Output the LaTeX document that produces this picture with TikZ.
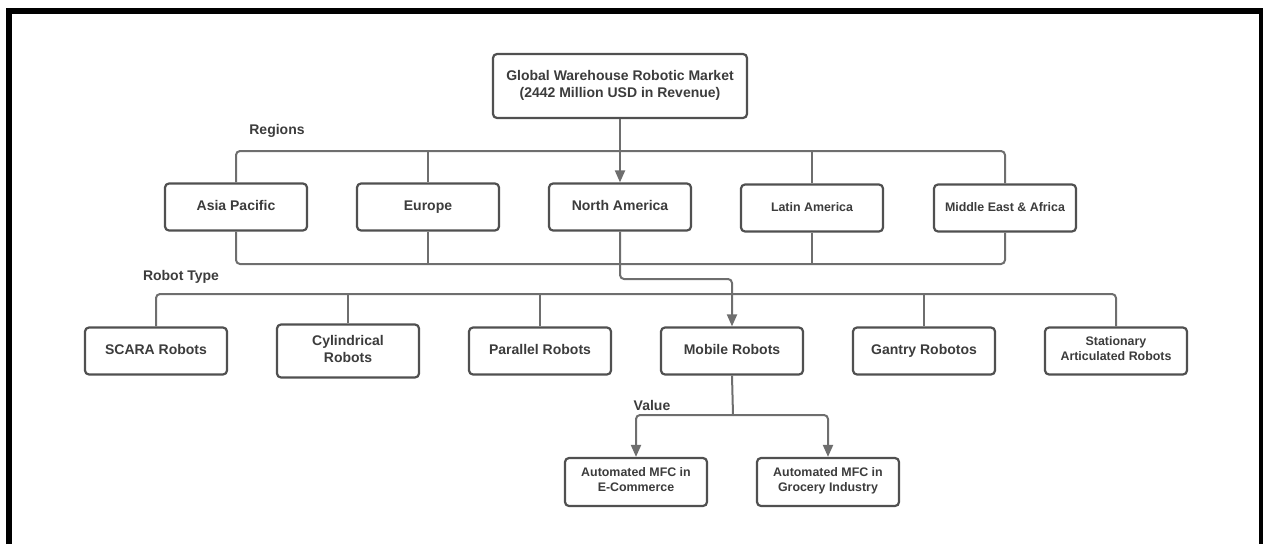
\documentclass[tikz,border=0pt]{standalone}
\usepackage{fontspec}
\setmainfont{Liberation Sans}
\usepackage{tikz}
\usetikzlibrary{arrows.meta}
\usetikzlibrary{calc}
\usetikzlibrary{positioning}
\definecolor{linegray}{RGB}{110,110,110}
\definecolor{boxgray}{RGB}{80,80,80}
\definecolor{textgray}{RGB}{60,60,60}

\begin{document}
\begin{tikzpicture}[
			x=1pt, y=-1pt,
			every node/.style={font=\fontsize{14}{17}\selectfont\bfseries, text=textgray},
			box/.style={rectangle, draw=boxgray, line width=2.2pt, rounded corners=4pt, fill=white, minimum width=142pt, minimum height=47pt, align=center, inner sep=2pt, execute at begin node=\strut, execute at end node=\strut},
			smallbox/.style={box, font=\fontsize{12.4}{15}\selectfont\bfseries},
			conn/.style={color=linegray, line width=2pt, rounded corners=4pt},
			arrow/.style={conn, -{Triangle[width=10pt,length=12pt]}}
		]

		\useasboundingbox (0,0) rectangle (1263,544);

		% Frame (open at the bottom)
		\draw[line width=6pt] (9,544) -- (9,11) -- (1262,11) -- (1262,544);

		% Market (root)
		\node[box, minimum width=254pt, minimum height=64pt] (market) at (620,86) {Global Warehouse Robotic Market\\(2442 Million USD in Revenue)};

		% Regions
		\node (regions) at (277,131) {Regions};
		\node[box] (asia) at (236,207) {Asia Pacific};
		\node[box] (europe) at (428,207) {Europe};
		\node[box] (namerica) at (620,207) {North America};
		\node[smallbox] (lamerica) at (812,208) {Latin America};
		\node[smallbox] (mea) at (1005,208) {Middle East \& Africa};

		\coordinate (rtop) at (620,151);
		\coordinate (rbot) at (620,264);
		\coordinate (nabend) at (620,279);
		\draw[conn] (asia.north) |- (rtop) -| (mea.north);
		\foreach \n in {europe,lamerica}
		\draw[conn] (\n.north) -- (\n.north |- rtop);
		\draw[arrow] (market) -- (namerica);
		\draw[conn] (asia.south) |- (rbot) -| (mea.south);
		\foreach \n in {europe,lamerica}
		\draw[conn] (\n.south) -- (\n.south |- rbot);

		% Robot type
		\node (robottype) at (181,277) {Robot Type};
		\node[box] (scara) at (156,351) {SCARA Robots};
		\node[box, minimum height=53pt] (cylindrical) at (348,351) {Cylindrical\\Robots};
		\node[box] (parallel) at (540,351) {Parallel Robots};
		\node[box] (mobile) at (732,351) {Mobile Robots};
		\node[box] (gantry) at (924,351) {Gantry Robotos};
		\node[smallbox] (stationary) at (1116,351) {Stationary\\Articulated Robots};

		\coordinate (tbus) at (540,294);
		\draw[conn] (scara.north) |- (tbus) -| (stationary.north);
		\foreach \n in {cylindrical,parallel,gantry}
		\draw[conn] (\n.north) -- (\n.north |- tbus);
		\draw[arrow] (namerica.south) -- (nabend) -| (mobile.north);

		% Value
		\node (value) at (652,405) {Value};
		\node[smallbox, minimum height=48pt] (ecommerce) at (636,482) {Automated MFC in\\E-Commerce};
		\node[smallbox, minimum height=48pt] (grocery) at (828,482) {Automated MFC in\\Grocery Industry};

		\coordinate (vsplit) at (733,415);
		\draw[conn] (mobile.south) -- (vsplit);
		\draw[arrow] (vsplit) -| (ecommerce.north);
		\draw[arrow] (vsplit) -| (grocery.north);

	\end{tikzpicture}
\end{document}
